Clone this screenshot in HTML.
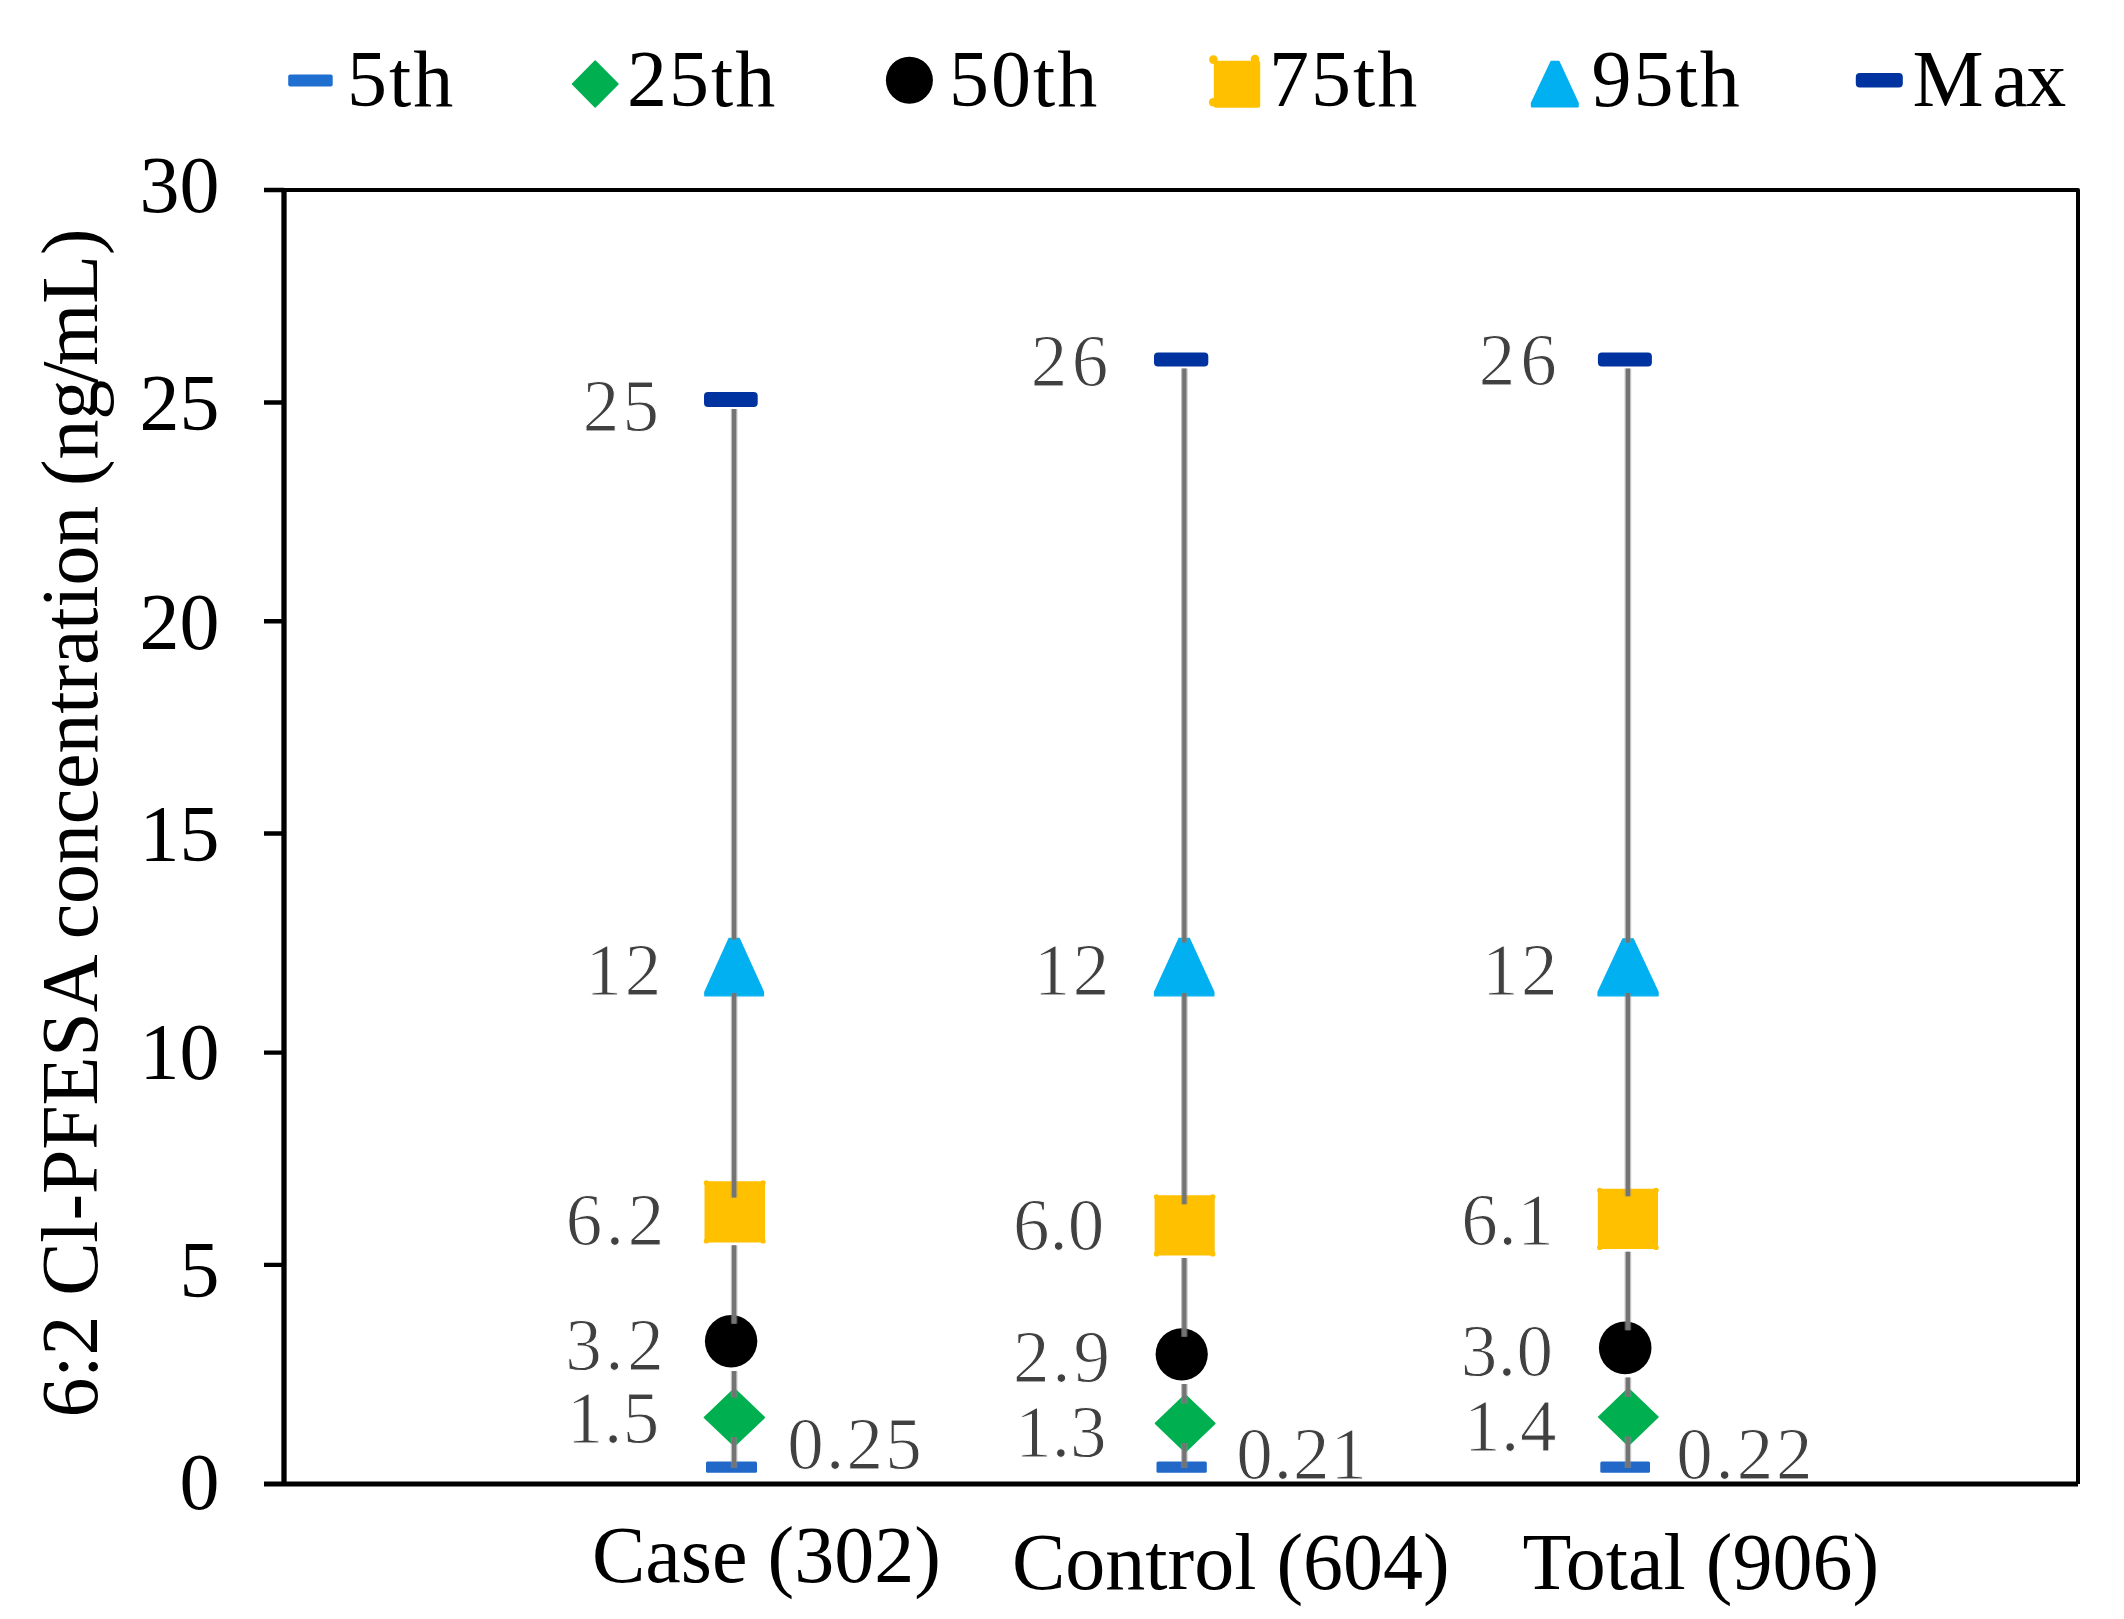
<!DOCTYPE html>
<html lang="en"><head><meta charset="utf-8"><title>6:2 Cl-PFESA concentration</title>
<style>html,body{margin:0;padding:0;background:#fff;overflow:hidden}svg{display:block}text{font-family:"Liberation Serif",serif}</style></head><body>
<svg width="2124" height="1619" viewBox="0 0 2124 1619">
<rect width="2124" height="1619" fill="#fff"/>
<g fill="none" stroke="#000">
<path d="M284 190H2078V1484" stroke-width="4" stroke-linejoin="round"/>
<path d="M284 190V1484" stroke-width="5.3"/>
<path d="M264 1484H2078" stroke-width="5"/>
<path d="M264 190H284M264 402.5H284M264 621.3H284M264 833.5H284M264 1052.6H284M264 1264.9H284" stroke-width="4.4"/>
</g>
<g font-size="80" fill="#000" text-anchor="end">
<text x="219.5" y="211.5">30</text>
<text x="219.5" y="430.2">25</text>
<text x="219.5" y="649.2">20</text>
<text x="219.5" y="860.8">15</text>
<text x="219.5" y="1079.2">10</text>
<text x="219.5" y="1296.8">5</text>
<text x="219.5" y="1508.5">0</text>
</g>
<text font-size="80" fill="#000" transform="translate(96.5 1417.5) rotate(-90)" letter-spacing="-0.15">6:2 Cl-PFESA concentration (ng<tspan dx="-4">/</tspan><tspan dx="-4">mL)</tspan></text>
<g font-size="80" fill="#000">
<text x="592" y="1582">Case (302)</text>
<text x="1012" y="1589">Control (604)</text>
<text x="1522.5" y="1588.5">Total (906)</text>
</g>
<g font-size="80" fill="#000" letter-spacing="2">
<rect x="288.2" y="74.4" width="44.5" height="12" rx="2" fill="#1f6fd0"/>
<text x="347" y="106">5th</text>
<path d="M572.5 84L595.2 61L618 84L595.2 107Z" fill="#00b050" stroke="#00b050" stroke-width="1.5" stroke-linejoin="round"/>
<text x="627" y="106">25th</text>
<circle cx="909.4" cy="80.2" r="23.5" fill="#000"/>
<text x="949" y="106">50th</text>
<rect x="1213.8" y="60.8" width="46.4" height="46.9" rx="2" fill="#ffc000"/>
<circle cx="1213.4" cy="59.6" r="4.3" fill="#ffc000"/><circle cx="1255" cy="59.1" r="4.3" fill="#ffc000"/><circle cx="1213.2" cy="102.2" r="4.3" fill="#ffc000"/>
<text x="1269" y="106">75th</text>
<path d="M1551.2 61.5H1558.8L1578 103V106.6H1531.6V103Z" fill="#00b0f0" stroke="#00b0f0" stroke-width="1.6" stroke-linejoin="round"/>
<text x="1591.5" y="106">95th</text>
<rect x="1855.8" y="73" width="47" height="14.5" rx="4" fill="#0033a0"/>
<text x="1912.5" y="106" letter-spacing="0">M<tspan dx="8.5" letter-spacing="-1.5">ax</tspan></text>
</g>
<rect x="704" y="392.1" width="53.7" height="14.9" rx="4" fill="#0033a0"/>
<path d="M729.1 938.3H739.2L763.5 991.9V995.8H704.8V991.9Z" fill="#00b0f0" stroke="#00b0f0" stroke-width="1.2" stroke-linejoin="round"/>
<rect x="704.5" y="1181.3" width="60.5" height="61.2" rx="0.5" fill="#ffc000"/>
<circle cx="706.4" cy="1182.8" r="2.6" fill="#ffc000"/><circle cx="706.4" cy="1241.0" r="2.6" fill="#ffc000"/><circle cx="763.1" cy="1182.8" r="2.6" fill="#ffc000"/><circle cx="763.1" cy="1241.0" r="2.6" fill="#ffc000"/>
<circle cx="731.1" cy="1341.3" r="26.2" fill="#000"/>
<path d="M704.4 1417.5L734.4 1388.9L764.4 1417.5L734.4 1446Z" fill="#00b050" stroke="#00b050" stroke-width="1.6" stroke-linejoin="round"/>
<rect x="706" y="1461.4" width="51.0" height="11.4" rx="1.5" fill="#2168c8"/>
<path d="M734.1 409.0V939.5M734.1 993.0V1197.6M734.1 1245.2V1323.8M734.1 1370.9V1397.4M734.1 1437.0V1467.9" stroke="#8c8c8c" stroke-width="6.6" stroke-opacity="0.55" fill="none"/>
<path d="M734.1 409.0V939.5M734.1 993.0V1197.6M734.1 1245.2V1323.8M734.1 1370.9V1397.4M734.1 1437.0V1467.9" stroke="#747474" stroke-width="4.2" fill="none"/>
<rect x="1154" y="352.5" width="54.3" height="14.1" rx="4" fill="#0033a0"/>
<path d="M1179.1 938.3H1189.3L1213.9 991.9V995.8H1154.5V991.9Z" fill="#00b0f0" stroke="#00b0f0" stroke-width="1.2" stroke-linejoin="round"/>
<rect x="1154.6" y="1195.3" width="60.1" height="60.1" rx="0.5" fill="#ffc000"/>
<circle cx="1156.5" cy="1196.8" r="2.6" fill="#ffc000"/><circle cx="1156.5" cy="1253.9" r="2.6" fill="#ffc000"/><circle cx="1212.8" cy="1196.8" r="2.6" fill="#ffc000"/><circle cx="1212.8" cy="1253.9" r="2.6" fill="#ffc000"/>
<circle cx="1181.7" cy="1354.3" r="26.1" fill="#000"/>
<path d="M1155.5 1423.4L1185.2 1394.9L1214.8 1423.4L1185.2 1451.9Z" fill="#00b050" stroke="#00b050" stroke-width="1.6" stroke-linejoin="round"/>
<rect x="1156.5" y="1461.5" width="50.3" height="11.3" rx="1.5" fill="#2168c8"/>
<path d="M1184.3 368.6V942.4M1184.3 993.0V1204.2M1184.3 1258.1V1336.7M1184.3 1383.9V1403.4M1184.3 1442.9V1468.0" stroke="#8c8c8c" stroke-width="6.6" stroke-opacity="0.55" fill="none"/>
<path d="M1184.3 368.6V942.4M1184.3 993.0V1204.2M1184.3 1258.1V1336.7M1184.3 1383.9V1403.4M1184.3 1442.9V1468.0" stroke="#747474" stroke-width="4.2" fill="none"/>
<rect x="1597.9" y="352.5" width="54.0" height="14.1" rx="4" fill="#0033a0"/>
<path d="M1622.9 938.8H1633.2L1658.1 992.0V995.8H1598.0V992.0Z" fill="#00b0f0" stroke="#00b0f0" stroke-width="1.2" stroke-linejoin="round"/>
<rect x="1597.8" y="1188.8" width="60.2" height="60.2" rx="0.5" fill="#ffc000"/>
<circle cx="1599.7" cy="1190.3" r="2.6" fill="#ffc000"/><circle cx="1599.7" cy="1247.5" r="2.6" fill="#ffc000"/><circle cx="1656.1" cy="1190.3" r="2.6" fill="#ffc000"/><circle cx="1656.1" cy="1247.5" r="2.6" fill="#ffc000"/>
<circle cx="1625.2" cy="1347.9" r="26.3" fill="#000"/>
<path d="M1598.7 1417.0L1628.3 1388.5L1658 1417.0L1628.3 1445.5Z" fill="#00b050" stroke="#00b050" stroke-width="1.6" stroke-linejoin="round"/>
<rect x="1600.3" y="1461.5" width="49.7" height="11.3" rx="1.5" fill="#2168c8"/>
<path d="M1627.9 368.6V942.4M1627.9 993.0V1196.3M1627.9 1251.7V1330.3M1627.9 1377.5V1397.0M1627.9 1436.5V1468.0" stroke="#8c8c8c" stroke-width="6.6" stroke-opacity="0.55" fill="none"/>
<path d="M1627.9 368.6V942.4M1627.9 993.0V1196.3M1627.9 1251.7V1330.3M1627.9 1377.5V1397.0M1627.9 1436.5V1468.0" stroke="#747474" stroke-width="4.2" fill="none"/>
<g font-size="73" fill="#404040" stroke="#fff" stroke-width="1">
<text x="582.8" y="431.0" letter-spacing="3.10">25</text>
<text x="585.4" y="994.7" letter-spacing="2.80">12</text>
<text x="565.7" y="1245.0" letter-spacing="3.65">6.2</text>
<text x="565.2" y="1370.0" letter-spacing="3.65">3.2</text>
<text x="566.7" y="1443.0" letter-spacing="0.70">1.5</text>
<text x="787.3" y="1469.3" letter-spacing="2.20">0.25</text>
<text x="1030.7" y="386.1" letter-spacing="4.50">26</text>
<text x="1033.8" y="994.7" letter-spacing="2.40">12</text>
<text x="1013.0" y="1250.0">6.0</text>
<text x="1012.9" y="1382.0" letter-spacing="2.95">2.9</text>
<text x="1015.3" y="1457.1">1.3</text>
<text x="1236.3" y="1478.6" letter-spacing="0.97">0.21</text>
<text x="1478.8" y="384.9" letter-spacing="5.00">26</text>
<text x="1482.1" y="994.5" letter-spacing="2.50">12</text>
<text x="1461.2" y="1244.7" letter-spacing="0.70">6.1</text>
<text x="1460.8" y="1375.9" letter-spacing="0.50">3.0</text>
<text x="1463.9" y="1451.0" letter-spacing="0.70">1.4</text>
<text x="1676.3" y="1478.6" letter-spacing="2.80">0.22</text>
</g>
</svg></body></html>
